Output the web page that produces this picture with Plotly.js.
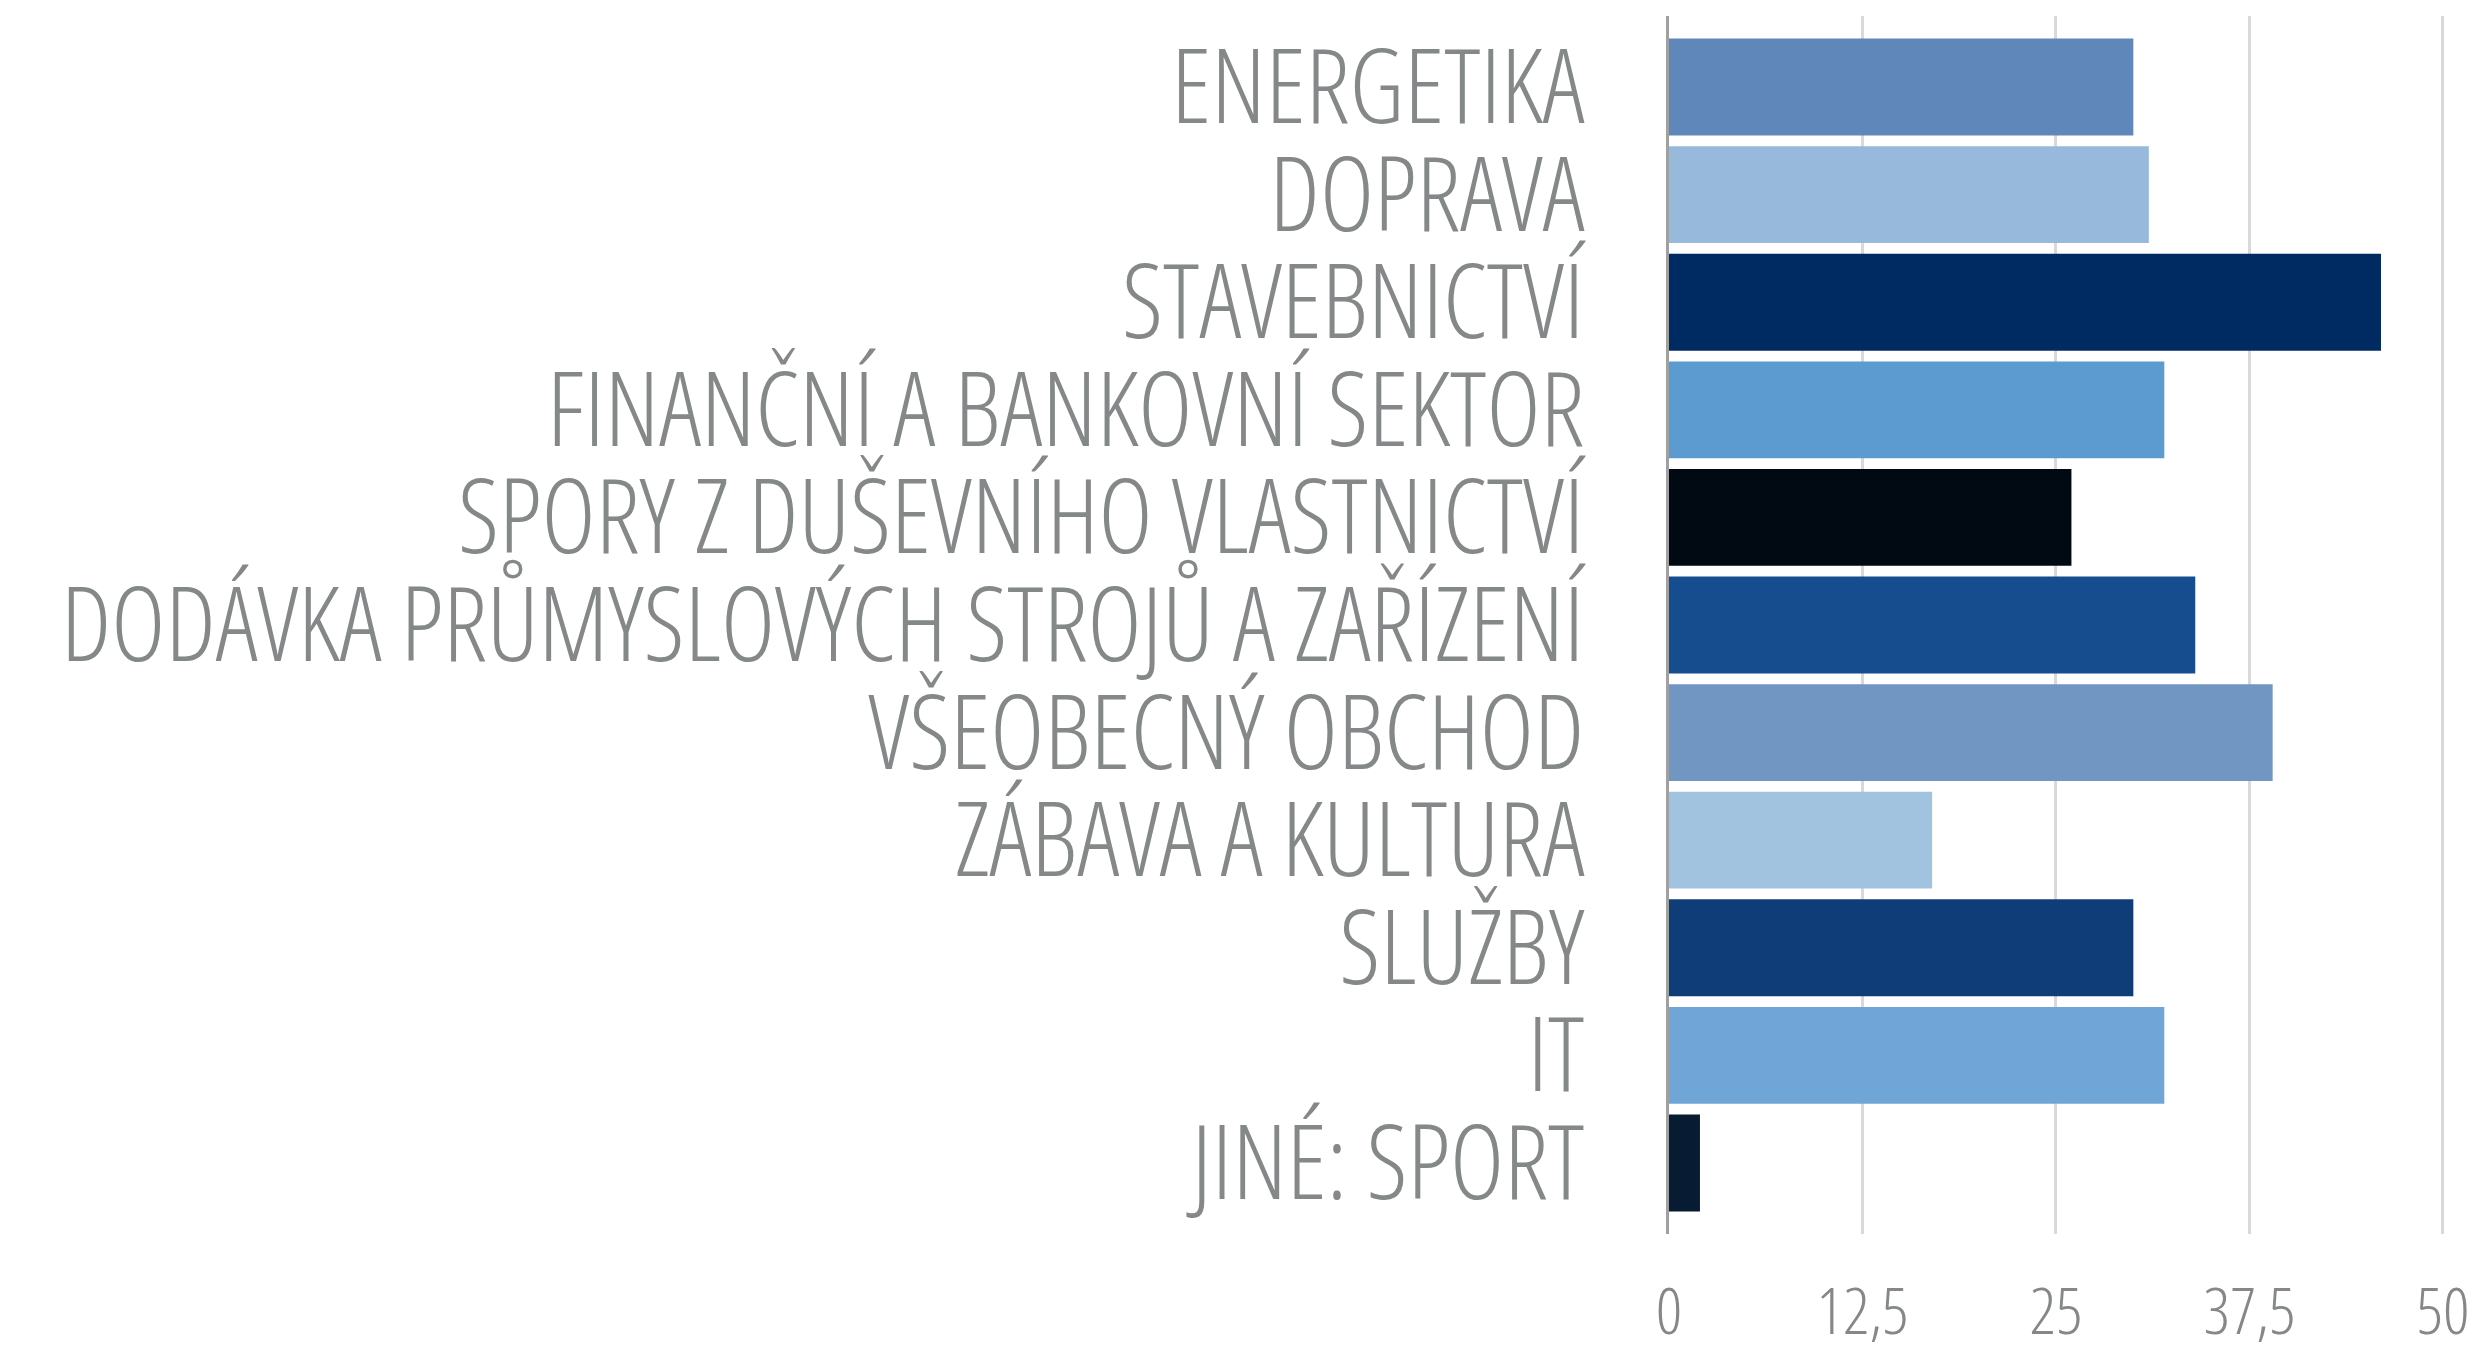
<!DOCTYPE html>
<html>
<head>
<meta charset="utf-8">
<script src="https://cdn.plot.ly/plotly-3.0.1.min.js"></script>
<style>
  html, body { margin: 0; padding: 0; background: #ffffff; }
  #chart { width: 2476px; height: 1345px; }
  #chart svg text { font-stretch: 75% !important; }
</style>
</head>
<body>
<div id="chart"></div>
<script>
const categories = [
  "ENERGETIKA",
  "DOPRAVA",
  "STAVEBNICTVÍ",
  "FINANČNÍ A BANKOVNÍ SEKTOR",
  "SPORY Z DUŠEVNÍHO VLASTNICTVÍ",
  "DODÁVKA PRŮMYSLOVÝCH STROJŮ A ZAŘÍZENÍ",
  "VŠEOBECNÝ OBCHOD",
  "ZÁBAVA A KULTURA",
  "SLUŽBY",
  "IT",
  "JINÉ: SPORT"
];
const values = [30, 31, 46, 32, 26, 34, 39, 17, 30, 32, 2];
const barColors = [
  "#5F87B9", "#97B9DB", "#002B62", "#5B9BD0", "#010912", "#154D8F",
  "#7096C1", "#A2C3DF", "#0F3D77", "#6FA6D7", "#071B33"
];
const xTickVals = [0, 12.5, 25, 37.5, 50];
const xTickText = ["0", "12,5", "25", "37,5", "50"];

const fontFamily = '"Open Sans", "Roboto Condensed", sans-serif';
const textColor = "#858889";

const trace = {
  type: "bar",
  orientation: "h",
  x: values,
  y: categories,
  marker: { color: barColors, line: { width: 0 } },
  hoverinfo: "x+y"
};

const layout = {
  width: 2476,
  height: 1345,
  margin: { l: 1669, r: 30, t: 16, b: 111, pad: 0 },
  paper_bgcolor: "#ffffff",
  plot_bgcolor: "#ffffff",
  showlegend: false,
  bargap: 0.1,
  font: { family: fontFamily, color: textColor },
  xaxis: {
    range: [0, 50.2],
    tickmode: "array",
    tickvals: xTickVals,
    ticktext: xTickText,
    showgrid: true,
    gridcolor: "#D9D9D9",
    gridwidth: 3,
    zeroline: false,
    showline: false,
    ticks: "",
    tickfont: { family: fontFamily, size: 65, color: textColor, weight: 300 },
    ticklabelstandoff: 34,
    ticklabeloverflow: "allow",
    fixedrange: true
  },
  yaxis: {
    type: "category",
    range: [10.66, -0.66],
    tickmode: "array",
    tickvals: categories,
    ticktext: categories,
    showgrid: false,
    zeroline: false,
    showline: true,
    linecolor: "#A0A0A0",
    linewidth: 3,
    ticks: "",
    tickfont: { family: fontFamily, size: 103, color: textColor, weight: 300 },
    ticklabelstandoff: 61,
    ticklabeloverflow: "allow",
    fixedrange: true
  }
};

Plotly.newPlot("chart", [trace], layout, { displayModeBar: false, staticPlot: true });
</script>
</body>
</html>
